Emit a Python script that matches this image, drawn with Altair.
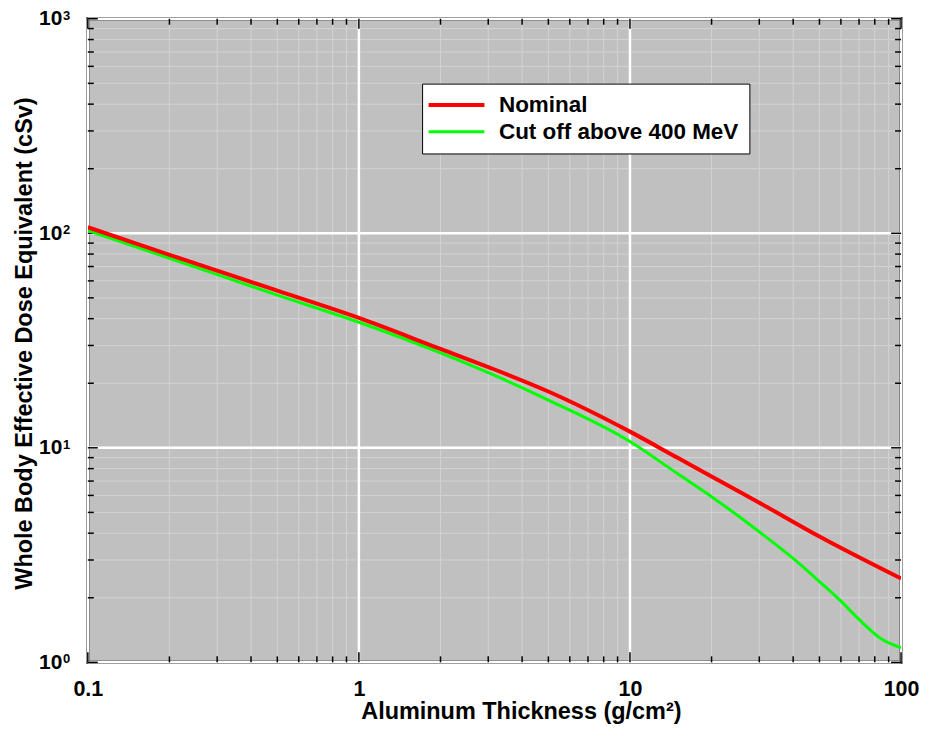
import altair as alt
import pandas as pd

# ---------------- data ----------------
series_names = ["Nominal", "Cut off above 400 MeV"]
series_colors = ["#ff0000", "#00ff00"]
series_widths = [4, 3]

thickness_nominal = [0.1, 0.2, 0.5, 1, 2, 3, 5, 10, 15, 20, 30, 50, 100]
dose_nominal = [106.7, 79.4, 54.0, 40.3, 28.9, 23.8, 18.3, 11.9, 8.98, 7.35, 5.55, 3.86, 2.46]

thickness_cut = [0.1, 0.2, 0.5, 1, 2, 3, 5, 10, 15, 20, 30, 40, 50, 60, 70, 85, 100]
dose_cut = [103.0, 76.5, 51.5, 38.5, 27.7, 22.4, 16.7, 10.7, 7.57, 5.92, 4.06, 3.05, 2.38, 1.93, 1.585, 1.28, 1.17]

x_major = [0.1, 1, 10, 100]
x_minor = [0.2, 0.3, 0.4, 0.5, 0.6, 0.7, 0.8, 0.9,
           2, 3, 4, 5, 6, 7, 8, 9,
           20, 30, 40, 50, 60, 70, 80, 90]
y_major = [1, 10, 100, 1000]
y_exponents = ["0", "1", "2", "3"]
y_minor = [2, 3, 4, 5, 6, 7, 8, 9,
           20, 30, 40, 50, 60, 70, 80, 90,
           200, 300, 400, 500, 600, 700, 800, 900]

# ---------------- layout ----------------
W, H = 815, 645
FONT = "Liberation Sans"

xs = alt.Scale(type="log", domain=[0.1, 100], nice=False)
ys = alt.Scale(type="log", domain=[1, 1000], nice=False)

ax_x = alt.Axis(values=x_major, format="~g", title="Aluminum Thickness (g/cm²)",
                ticks=False, domain=False, grid=False, labelPadding=16,
                labelFontSize=21.5, labelFont=FONT, labelFontWeight="bold", labelColor="black",
                labelFlush=False, labelOverlap=False,
                titleFontSize=23.5, titleFont=FONT, titleFontWeight="bold", titleColor="black",
                titleX=434, titleY=49, titleBaseline="middle", titleAlign="center")
ax_y = alt.Axis(values=y_major, labelExpr="'10'", title="Whole Body Effective Dose Equivalent (cSv)",
                ticks=False, domain=False, grid=False, labelPadding=26,
                labelFontSize=21, labelFont=FONT, labelFontWeight="bold", labelColor="black",
                labelFlush=False, labelOverlap=False, labelBaseline="middle",
                titleFontSize=23.5, titleFont=FONT, titleFontWeight="bold", titleColor="black",
                titleX=-63, titleY=325, titleAngle=270, titleBaseline="middle", titleAlign="center")

curves = pd.concat([
    pd.DataFrame({"series": series_names[1], "thickness": thickness_cut, "dose": dose_cut}),
    pd.DataFrame({"series": series_names[0], "thickness": thickness_nominal, "dose": dose_nominal}),
], ignore_index=True)

xmaj = pd.DataFrame({"thickness": x_major})
xmin = pd.DataFrame({"thickness": x_minor})
ymaj = pd.DataFrame({"dose": y_major})
ymin = pd.DataFrame({"dose": y_minor})
yexp = pd.DataFrame({"dose": y_major, "e": y_exponents})

X = alt.X("thickness:Q", scale=xs, axis=ax_x)
Y = alt.Y("dose:Q", scale=ys, axis=ax_y)

# grid lines
grid_x_minor = alt.Chart(xmin).mark_rule(color="#d3d3d3", strokeWidth=1).encode(x=X)
grid_y_minor = alt.Chart(ymin).mark_rule(color="#d3d3d3", strokeWidth=1).encode(y=Y)
grid_x_major = alt.Chart(xmaj).mark_rule(color="white", strokeWidth=2.5).encode(x=X)
grid_y_major = alt.Chart(ymaj).mark_rule(color="white", strokeWidth=2.5).encode(y=Y)

# inward tick marks on all four sides
def xticks(df, length):
    base = alt.Chart(df).mark_rule(color="black", strokeWidth=1.5)
    bottom = base.encode(x=X, y=alt.value(H), y2=alt.value(H - length))
    top = base.encode(x=X, y=alt.value(0), y2=alt.value(length))
    return [bottom, top]

def yticks(df, length):
    base = alt.Chart(df).mark_rule(color="black", strokeWidth=1.5)
    left = base.encode(y=Y, x=alt.value(0), x2=alt.value(length))
    right = base.encode(y=Y, x=alt.value(W), x2=alt.value(W - length))
    return [left, right]

ticks = xticks(xmin, 6) + xticks(xmaj, 10) + yticks(ymin, 6) + yticks(ymaj, 10)

lines = alt.Chart(curves).mark_line(clip=True, interpolate="monotone").encode(
    x=X,
    y=Y,
    color=alt.Color("series:N", scale=alt.Scale(domain=series_names, range=series_colors),
                    sort=series_names,
                    legend=alt.Legend(title=None, orient="none", legendX=335, legendY=65,
                                      fillColor="white", strokeColor="black",
                                      padding=10, rowPadding=4,
                                      symbolType="M-3,0H3", symbolSize=348, symbolStrokeWidth=4,
                                      symbolOffset=13,
                                      labelFontSize=22.5, labelFont=FONT, labelFontWeight="bold",
                                      labelColor="black", labelLimit=400, labelOffset=31)),
    strokeWidth=alt.StrokeWidth("series:N", scale=alt.Scale(domain=series_names, range=series_widths),
                                legend=None),
    detail="series:N",
)

exps = alt.Chart(yexp).mark_text(align="left", baseline="middle", dy=-3, fontSize=13,
                                 fontWeight="bold", font=FONT, color="black").encode(
    y=Y, x=alt.value(-25), text="e:N")

chart = alt.layer(grid_x_minor, grid_y_minor, grid_x_major, grid_y_major, *ticks, lines, exps).properties(
    width=W, height=H,
    autosize=alt.AutoSizeParams(type="none"),
    padding={"left": 80, "top": 10, "right": 18, "bottom": 62},
    background="white",
).configure_view(fill="#c0c0c0", stroke="black", strokeWidth=3)

chart.save("out.html", embed_options={"renderer": "svg", "actions": False})
